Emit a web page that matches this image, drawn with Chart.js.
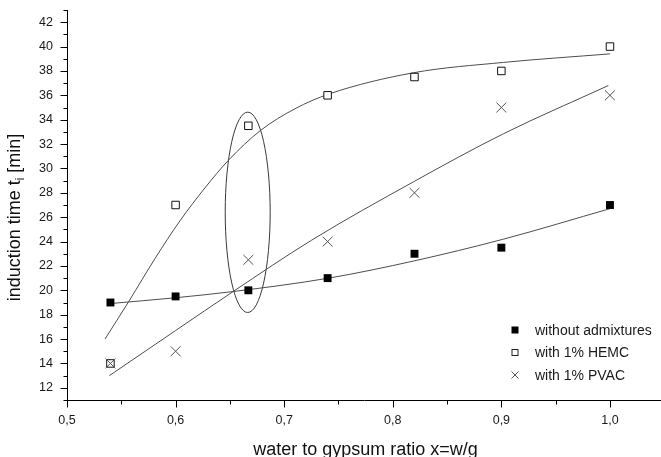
<!DOCTYPE html>
<html>
<head>
<meta charset="utf-8">
<title>Induction time vs water to gypsum ratio</title>
<script src="https://cdn.jsdelivr.net/npm/chart.js@4.4.0/dist/chart.umd.min.js"></script>
<style>
  html, body { margin: 0; padding: 0; background: #fff; overflow: hidden; }
  canvas { display: block; }
</style>
</head>
<body>
<canvas id="inductionChart" width="661" height="457"></canvas>
<script>
// measured induction times [min] per water/gypsum ratio
const ratios = [0.54, 0.60, 0.667, 0.74, 0.82, 0.90, 1.00];
const plainTimes = [19, 19.5, 20, 21, 23, 23.5, 27];
const hemcTimes = [14, 27, 33.5, 36, 37.5, 38, 40];
const pvacTimes = [14, 15, 22.5, 24, 28, 35, 36];

// trend curves (ratio, time)
const plainFitX = [0.538, 0.601, 0.653, 0.741, 0.819, 0.902, 1.0];
const plainFitY = [18.9, 19.4, 19.9, 21.0, 22.4, 24.2, 26.7];
const hemcFitX = [0.535, 0.557, 0.581, 0.604, 0.627, 0.649, 0.678, 0.71, 0.741, 0.819, 0.902, 1.0];
const hemcFitY = [16.0, 19.1, 22.6, 25.7, 28.4, 30.7, 33.1, 34.9, 36.1, 37.85, 38.7, 39.4];
const pvacFitX = [0.539, 0.60, 0.653, 0.725, 0.819, 0.902, 0.9985];
const pvacFitY = [13.0, 16.7, 19.9, 24.1, 28.9, 32.85, 36.8];

// highlighted group around w/g = 0.667 (centre and half-axes in data units)
const ellipseMark = { x: 0.6664, y: 26.4, rx: 0.0207, ry: 8.22 };

const ratioTicks = [0.5, 0.6, 0.7, 0.8, 0.9, 1.0];
const timeTicks = [12, 14, 16, 18, 20, 22, 24, 26, 28, 30, 32, 34, 36, 38, 40, 42];

const FONT = "'Liberation Sans', Arial, sans-serif";

const pairs = (xs, ys) => xs.map((x, i) => ({ x: x, y: ys[i] }));

const curve = (xs, ys) => ({
    data: pairs(xs, ys),
    showLine: true,
    pointRadius: 0,
    borderColor: '#4d4d4d',
    borderWidth: 1,
    cubicInterpolationMode: 'monotone',
    order: 5,
});

const plainSet = {
    label: 'without admixtures',
    data: pairs(ratios, plainTimes),
    pointStyle: 'rect',
    pointRadius: 5.6,
    backgroundColor: '#000',
    borderColor: '#000',
    borderWidth: 0,
    order: 3,
};
const hemcSet = {
    label: 'with 1% HEMC',
    data: pairs(ratios, hemcTimes),
    pointStyle: 'rect',
    pointRadius: 5.3,
    backgroundColor: '#fff',
    borderColor: '#111',
    borderWidth: 1,
    order: 2,
};
const pvacSet = {
    label: 'with 1% PVAC',
    data: pairs(ratios, pvacTimes),
    pointStyle: 'crossRot',
    pointRadius: 7,
    borderColor: '#555',
    borderWidth: 1,
    order: 1,
};

function drawMarker(ctx, style, x, y, s) {
    ctx.save();
    ctx.lineWidth = 1;
    if (style === 'filled') {
        ctx.fillStyle = '#000';
        ctx.fillRect(x - s / 2, y - s / 2, s, s);
    } else if (style === 'open') {
        ctx.strokeStyle = '#222';
        ctx.strokeRect(x - s / 2 + 0.5, y - s / 2 + 0.5, s - 1, s - 1);
    } else {
        ctx.strokeStyle = '#555';
        ctx.beginPath();
        ctx.moveTo(x - s / 2, y - s / 2); ctx.lineTo(x + s / 2, y + s / 2);
        ctx.moveTo(x + s / 2, y - s / 2); ctx.lineTo(x - s / 2, y + s / 2);
        ctx.stroke();
    }
    ctx.restore();
}

const decorations = {
    id: 'decorations',
    beforeDatasetsDraw(chart) {
        const { ctx, scales: { x, y } } = chart;
        const cx = x.getPixelForValue(ellipseMark.x);
        const cy = y.getPixelForValue(ellipseMark.y);
        const rx = Math.abs(x.getPixelForValue(ellipseMark.x + ellipseMark.rx) - cx);
        const ry = Math.abs(y.getPixelForValue(ellipseMark.y + ellipseMark.ry) - cy);
        ctx.save();
        ctx.strokeStyle = '#3a3a3a';
        ctx.lineWidth = 1;
        ctx.beginPath();
        ctx.ellipse(cx, cy, rx, ry, 0, 0, Math.PI * 2);
        ctx.stroke();
        ctx.restore();
    },
    afterDraw(chart) {
        const { ctx, chartArea, scales: { x, y } } = chart;
        ctx.save();
        ctx.strokeStyle = '#000';
        ctx.lineWidth = 1;
        ctx.beginPath();

        // x axis: major ticks plus one minor tick between each pair
        const bottom = Math.round(chartArea.bottom) + 0.5;
        ratioTicks.forEach((v, i) => {
            const px = Math.round(x.getPixelForValue(v)) + 0.5;
            ctx.moveTo(px, bottom); ctx.lineTo(px, bottom + 7);
            if (i < ratioTicks.length - 1) {
                const m = Math.round(x.getPixelForValue((v + ratioTicks[i + 1]) / 2)) + 0.5;
                ctx.moveTo(m, bottom); ctx.lineTo(m, bottom + 4);
            }
        });

        // y axis: major ticks on the labels, minor ticks on the odd minutes
        const left = Math.round(chartArea.left) + 0.5;
        for (let v = Math.ceil(y.min); v <= y.max; v++) {
            const py = Math.round(y.getPixelForValue(v)) + 0.5;
            const len = timeTicks.includes(v) ? 7 : 4;
            ctx.moveTo(left, py); ctx.lineTo(left - len, py);
        }
        ctx.stroke();

        // axis titles
        ctx.fillStyle = '#111';
        ctx.font = '18px ' + FONT;
        ctx.textBaseline = 'alphabetic';
        ctx.textAlign = 'center';
        ctx.fillText('water to gypsum ratio x=w/g', 365.5, 455);

        ctx.save();
        ctx.translate(19.5, 217.5);
        ctx.rotate(-Math.PI / 2);
        const head = 'induction time t';
        const sub = 'i';
        const tail = ' [min]';
        ctx.font = '18px ' + FONT;
        const wHead = ctx.measureText(head).width;
        const wTail = ctx.measureText(tail).width;
        ctx.font = '12px ' + FONT;
        const wSub = ctx.measureText(sub).width;
        let start = -(wHead + wSub + wTail) / 2;
        ctx.textAlign = 'left';
        ctx.font = '18px ' + FONT;
        ctx.fillText(head, start, 0);
        ctx.font = '12px ' + FONT;
        ctx.fillText(sub, start + wHead, 4);
        ctx.font = '18px ' + FONT;
        ctx.fillText(tail, start + wHead + wSub, 0);
        ctx.restore();

        // legend
        const rows = [
            { style: 'filled', set: plainSet, size: 7 },
            { style: 'open', set: hemcSet, size: 7 },
            { style: 'cross', set: pvacSet, size: 7 },
        ];
        ctx.font = '14px ' + FONT;
        ctx.textAlign = 'left';
        ctx.textBaseline = 'middle';
        ctx.fillStyle = '#1a1a1a';
        rows.forEach((r, i) => {
            const ly = 330 + i * 22.5;
            drawMarker(ctx, r.style, 515, ly, r.size);
            ctx.fillText(r.set.label, 535, ly + 1);
        });
        ctx.restore();
    },
};

const ctx = document.getElementById('inductionChart').getContext('2d');
const inductionChart = new Chart(ctx, {
    type: 'scatter',
    data: {
        datasets: [
            plainSet,
            hemcSet,
            pvacSet,
            curve(plainFitX, plainFitY),
            curve(hemcFitX, hemcFitY),
            curve(pvacFitX, pvacFitY),
        ],
    },
    options: {
        responsive: false,
        animation: false,
        layout: {
            autoPadding: false,
            padding: { top: 10, right: 0, left: 0, bottom: 0 },
        },
        plugins: {
            legend: { display: false },
            tooltip: { enabled: false },
        },
        scales: {
            x: {
                type: 'linear',
                min: 0.5,
                max: 1.047,
                afterBuildTicks: (s) => { s.ticks = ratioTicks.map(v => ({ value: v })); },
                afterFit: (s) => {
                    s.height = 57;
                    s.paddingLeft = 0;
                    s.paddingRight = 0;
                },
                grid: { display: false, drawTicks: false },
                border: { display: true, color: '#000', width: 1 },
                ticks: {
                    autoSkip: false,
                    maxRotation: 0,
                    padding: 13,
                    color: '#1a1a1a',
                    font: { family: FONT, size: 12.5 },
                    callback: (v) => v.toFixed(1).replace('.', ','),
                },
            },
            y: {
                type: 'linear',
                min: 11,
                max: 43,
                afterBuildTicks: (s) => { s.ticks = timeTicks.map(v => ({ value: v })); },
                afterFit: (s) => {
                    s.width = 67;
                    s.paddingTop = 0;
                    s.paddingBottom = 0;
                },
                grid: { display: false, drawTicks: false },
                border: { display: true, color: '#000', width: 1 },
                ticks: {
                    autoSkip: false,
                    padding: 14,
                    color: '#1a1a1a',
                    font: { family: FONT, size: 12.5 },
                    callback: (v) => String(v),
                },
            },
        },
    },
    plugins: [decorations],
});
</script>
</body>
</html>
